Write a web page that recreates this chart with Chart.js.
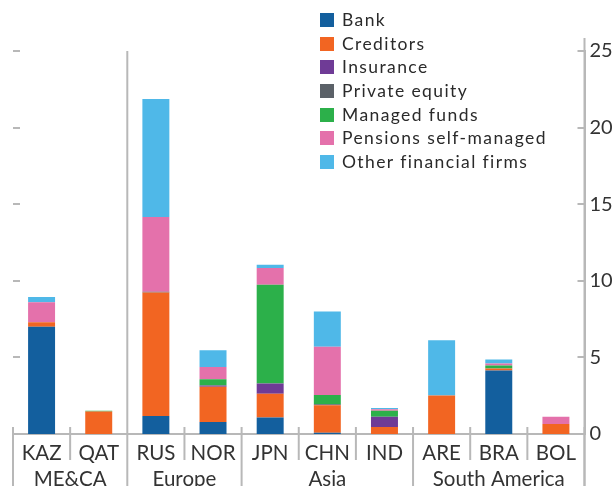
<!DOCTYPE html>
<html>
<head>
<meta charset="utf-8">
<script src="https://cdn.jsdelivr.net/npm/chart.js@4.4.1/dist/chart.umd.min.js"></script>
<style>
  body { margin: 0; background: #fff; }
  #wrap { position: relative; width: 613px; height: 486px; }
  #legend { position: absolute; left: 320px; top: 8px; font-family: Lato, sans-serif; font-size: 17.5px; letter-spacing: 1.4px; color: #2a2a2a; }
  #legend div { height: 23.7px; line-height: 23.7px; white-space: nowrap; }
  #legend span { display: inline-block; width: 14px; height: 14px; margin-right: 8px; vertical-align: -1px; }
</style>
</head>
<body>
<div id="wrap">
  <canvas id="chart"></canvas>
  <div id="legend"></div>
</div>
<script>
// données
const categories = ['KAZ', 'QAT', 'RUS', 'NOR', 'JPN', 'CHN', 'IND', 'ARE', 'BRA', 'BOL'];
const groups = [
  { label: 'ME&CA', from: 0, to: 1 },
  { label: 'Europe', from: 2, to: 3 },
  { label: 'Asia', from: 4, to: 6 },
  { label: 'South America', from: 7, to: 9 }
];
const yTicks = [0, 5, 10, 15, 20, 25];

const bank          = [7.0, 0,    1.18, 0.79, 1.07, 0.08, 0,    0,    4.14, 0];
const creditors     = [0.3, 1.47, 8.05, 2.3,  1.56, 1.8,  0.46, 2.52, 0.13, 0.66];
const insurance     = [0,   0,    0,    0.08, 0.66, 0,    0.66, 0,    0,    0];
const privateEquity = [0,   0,    0.06, 0,    0,    0.06, 0,    0,    0,    0];
const managedFunds  = [0,   0.05, 0,    0.4,  6.45, 0.6,  0.4,  0,    0.2,  0];
const pensions      = [1.3, 0,    4.87, 0.8,  1.09, 3.15, 0.1,  0,    0.13, 0.46];
const otherFirms    = [0.35, 0,   7.7,  1.1,  0.22, 2.3,  0.07, 3.6,  0.26, 0];

const series = [
  { label: 'Bank', data: bank, color: '#135f9e' },
  { label: 'Creditors', data: creditors, color: '#f26522' },
  { label: 'Insurance', data: insurance, color: '#6f3b96' },
  { label: 'Private equity', data: privateEquity, color: '#5b6168' },
  { label: 'Managed funds', data: managedFunds, color: '#2cb04a' },
  { label: 'Pensions self-managed', data: pensions, color: '#e471ab' },
  { label: 'Other financial firms', data: otherFirms, color: '#4fb8e8' }
];

const lineColor = '#b8b8b8';
const textColor = '#333';
const fontFamily = 'Lato, sans-serif';

// légende
const legend = document.getElementById('legend');
series.forEach(s => {
  const row = document.createElement('div');
  row.innerHTML = `<span style="background:${s.color}"></span>${s.label}`;
  legend.appendChild(row);
});

// traits, séparateurs et étiquettes de groupe
const decorations = {
  id: 'decorations',
  afterDraw(chart) {
    const ctx = chart.ctx;
    const x = chart.scales.x;
    const y = chart.scales.y;
    const area = chart.chartArea;
    const H = chart.height;
    ctx.save();
    ctx.strokeStyle = lineColor;
    ctx.lineWidth = 2;

    // petits traits des deux côtés
    yTicks.slice(1).forEach(v => {
      const py = Math.round(y.getPixelForValue(v));
      ctx.beginPath();
      ctx.moveTo(area.left, py); ctx.lineTo(area.left + 7, py);
      ctx.moveTo(area.right - 7, py); ctx.lineTo(area.right, py);
      ctx.stroke();
    });

    // axe de droite prolongé
    ctx.beginPath();
    ctx.moveTo(area.right, area.top - 13);
    ctx.lineTo(area.right, H);
    ctx.stroke();

    // séparateurs
    const half = (x.getPixelForValue(1) - x.getPixelForValue(0)) / 2;
    for (let i = 0; i <= categories.length; i++) {
      const px = i < categories.length ? x.getPixelForValue(i) - half : x.getPixelForValue(i - 1) + half;
      const isGroup = groups.some(g => g.from === i) || i === categories.length;
      let top = area.bottom - 7;
      if (i === groups[1].from) top = area.top;
      ctx.beginPath();
      ctx.moveTo(px, top);
      ctx.lineTo(px, isGroup ? H : area.bottom + 26);
      ctx.stroke();
    }

    // étiquettes de groupe
    ctx.fillStyle = textColor;
    ctx.font = '20.5px ' + fontFamily;
    ctx.textAlign = 'center';
    ctx.textBaseline = 'middle';
    groups.forEach(g => {
      const cx = (x.getPixelForValue(g.from) + x.getPixelForValue(g.to)) / 2;
      ctx.fillText(g.label, cx, area.bottom + 45);
    });
    ctx.restore();
  }
};

const ctx = document.getElementById('chart').getContext('2d');
new Chart(ctx, {
  type: 'bar',
  data: {
    labels: categories,
    datasets: series.map(s => ({
      label: s.label,
      data: s.data,
      backgroundColor: s.color,
      borderWidth: 0,
      categoryPercentage: 1,
      barPercentage: 0.472
    }))
  },
  options: {
    responsive: true,
    maintainAspectRatio: false,
    animation: false,
    layout: { padding: { left: 13, top: 51, right: 0, bottom: 0 } },
    plugins: { legend: { display: false }, tooltip: { enabled: false } },
    scales: {
      x: {
        stacked: true,
        grid: { display: false, drawTicks: false },
        border: { display: true, color: lineColor, width: 2 },
        ticks: { color: textColor, font: { family: fontFamily, size: 20.5 }, padding: 7 },
        afterFit(scale) { scale.height = 52; }
      },
      y: {
        stacked: true,
        position: 'right',
        min: 0,
        max: 25,
        grid: { display: false, drawTicks: false },
        border: { display: true, color: lineColor, width: 2 },
        afterBuildTicks(scale) { scale.ticks = yTicks.map(v => ({ value: v })); },
        ticks: { color: textColor, font: { family: fontFamily, size: 20 }, padding: 5 },
        afterFit(scale) { scale.width = 28.5; }
      }
    }
  },
  plugins: [decorations]
});
</script>
</body>
</html>
